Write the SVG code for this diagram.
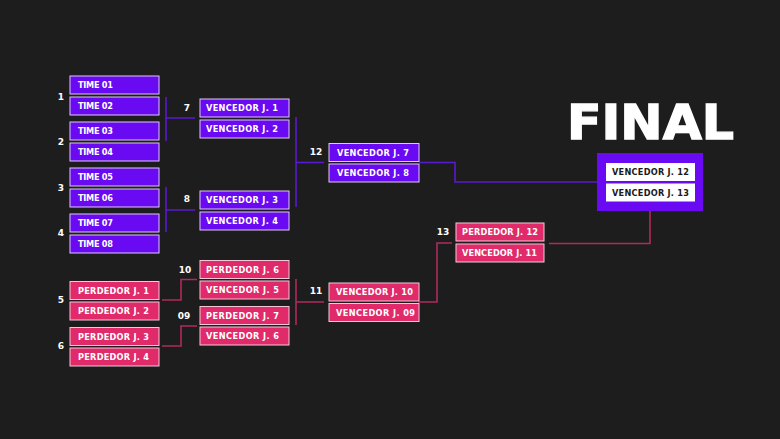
<svg xmlns="http://www.w3.org/2000/svg" width="780" height="439" viewBox="0 0 780 439">
<style>
.bg{fill:#1e1d1e}
.p rect{fill:#6a0af2;stroke:#dcc8f0;stroke-width:1}
.k rect{fill:#e02a6a;stroke:#f2c8d8;stroke-width:1}
.w rect{fill:#ffffff}
text{font-family:"DejaVu Sans","Liberation Sans",sans-serif;font-weight:bold}
.t{fill:#ffffff;font-size:8.2px}
.d{fill:#1a1a1a;font-size:8.2px}
.n{fill:#ffffff;font-size:9px;text-anchor:middle}
.lp{stroke:#5a1ad2;stroke-width:1.6;fill:none}
.lk{stroke:#b02a5c;stroke-width:1.6;fill:none}
</style>
<rect class="bg" x="0" y="0" width="780" height="439"/>
<g id="connectors">
<path class="lp" d="M166,97V141M166,118H195M166,187V232M166,210H195M296,117V207M296,162.5H324M419,162.5H455V182H597"/>
<path class="lk" d="M162,300H181V279.5H197M162,346H181V326H197M296,279V325M296,302H324M418,302H437V243H452M549,243.5H650V211"/>
</g>
<g id="labels">
<text class="n" x="61" y="100">1</text>
<text class="n" x="61" y="145">2</text>
<text class="n" x="61" y="191">3</text>
<text class="n" x="61" y="236">4</text>
<text class="n" x="61" y="303">5</text>
<text class="n" x="61" y="349">6</text>
<text class="n" x="187" y="111">7</text>
<text class="n" x="187" y="202">8</text>
<text class="n" x="316" y="155">12</text>
<text class="n" x="185" y="273">10</text>
<text class="n" x="184" y="319">09</text>
<text class="n" x="316" y="294">11</text>
<text class="n" x="443" y="235">13</text>
</g>
<g id="n-t01" class="p"><rect x="70" y="76" width="89" height="18"/><text class="t" x="78" y="88.3" textLength="35">TIME 01</text></g>
<g id="n-t02" class="p"><rect x="70" y="97" width="89" height="18"/><text class="t" x="78" y="109.3" textLength="35">TIME 02</text></g>
<g id="n-t03" class="p"><rect x="70" y="122" width="89" height="18"/><text class="t" x="78" y="134.3" textLength="35">TIME 03</text></g>
<g id="n-t04" class="p"><rect x="70" y="143" width="89" height="18"/><text class="t" x="78" y="155.3" textLength="35">TIME 04</text></g>
<g id="n-t05" class="p"><rect x="70" y="168" width="89" height="18"/><text class="t" x="78" y="180.3" textLength="35">TIME 05</text></g>
<g id="n-t06" class="p"><rect x="70" y="189" width="89" height="18"/><text class="t" x="78" y="201.3" textLength="35">TIME 06</text></g>
<g id="n-t07" class="p"><rect x="70" y="214" width="89" height="18"/><text class="t" x="78" y="226.3" textLength="35">TIME 07</text></g>
<g id="n-t08" class="p"><rect x="70" y="235" width="89" height="18"/><text class="t" x="78" y="247.3" textLength="35">TIME 08</text></g>
<g id="n-vj1" class="p"><rect x="200" y="99" width="89" height="18"/><text class="t" x="206" y="111.3" textLength="72">VENCEDOR J. 1</text></g>
<g id="n-vj2" class="p"><rect x="200" y="120" width="89" height="18"/><text class="t" x="206" y="132.3" textLength="72">VENCEDOR J. 2</text></g>
<g id="n-vj3" class="p"><rect x="200" y="191" width="89" height="18"/><text class="t" x="206" y="203.3" textLength="72">VENCEDOR J. 3</text></g>
<g id="n-vj4" class="p"><rect x="200" y="212" width="89" height="18"/><text class="t" x="206" y="224.3" textLength="72">VENCEDOR J. 4</text></g>
<g id="n-vj7" class="p"><rect x="329" y="143.5" width="90" height="18"/><text class="t" x="337" y="155.8" textLength="72">VENCEDOR J. 7</text></g>
<g id="n-vj8" class="p"><rect x="329" y="164" width="90" height="18"/><text class="t" x="337" y="176.3" textLength="72">VENCEDOR J. 8</text></g>
<g id="n-pj1" class="k"><rect x="70" y="281.5" width="89" height="18"/><text class="t" x="78" y="293.8" textLength="71">PERDEDOR J. 1</text></g>
<g id="n-pj2" class="k"><rect x="70" y="302" width="89" height="18"/><text class="t" x="78" y="314.3" textLength="71">PERDEDOR J. 2</text></g>
<g id="n-pj3" class="k"><rect x="70" y="327.5" width="89" height="18"/><text class="t" x="78" y="339.8" textLength="71">PERDEDOR J. 3</text></g>
<g id="n-pj4" class="k"><rect x="70" y="348" width="89" height="18"/><text class="t" x="78" y="360.3" textLength="71">PERDEDOR J. 4</text></g>
<g id="n-pj6" class="k"><rect x="200" y="260.5" width="89" height="18"/><text class="t" x="206" y="272.8" textLength="73">PERDEDOR J. 6</text></g>
<g id="n-vj5" class="k"><rect x="200" y="281" width="89" height="18"/><text class="t" x="206" y="293.3" textLength="73">VENCEDOR J. 5</text></g>
<g id="n-pj7" class="k"><rect x="200" y="306.5" width="89" height="18"/><text class="t" x="206" y="318.8" textLength="73">PERDEDOR J. 7</text></g>
<g id="n-vj6" class="k"><rect x="200" y="327" width="89" height="18"/><text class="t" x="206" y="339.3" textLength="73">VENCEDOR J. 6</text></g>
<g id="n-vj10" class="k"><rect x="329" y="283" width="90" height="18"/><text class="t" x="336" y="295.3" textLength="77">VENCEDOR J. 10</text></g>
<g id="n-vj09" class="k"><rect x="329" y="303.5" width="90" height="18"/><text class="t" x="336" y="315.8" textLength="79">VENCEDOR J. 09</text></g>
<g id="n-pj12" class="k"><rect x="456" y="223" width="88" height="18"/><text class="t" x="462" y="235.3" textLength="76">PERDEDOR J. 12</text></g>
<g id="n-vj11" class="k"><rect x="456" y="244" width="88" height="18"/><text class="t" x="462" y="256.3" textLength="75">VENCEDOR J. 11</text></g>
<g id="n-final">
<text x="567" y="139" fill="#ffffff" stroke="#ffffff" stroke-width="1.4" font-family="Inter,'Liberation Sans',sans-serif" font-size="48" font-weight="900" textLength="167" lengthAdjust="spacingAndGlyphs">FINAL</text>
<rect x="597" y="153" width="106" height="58" fill="#6a0af2"/>
<g class="w"><rect x="606" y="163" width="89" height="18"/><text class="d" x="612" y="175.3" textLength="77">VENCEDOR J. 12</text>
<rect x="606" y="183.5" width="89" height="18"/><text class="d" x="612" y="195.8" textLength="77">VENCEDOR J. 13</text></g>
</g>
</svg>
